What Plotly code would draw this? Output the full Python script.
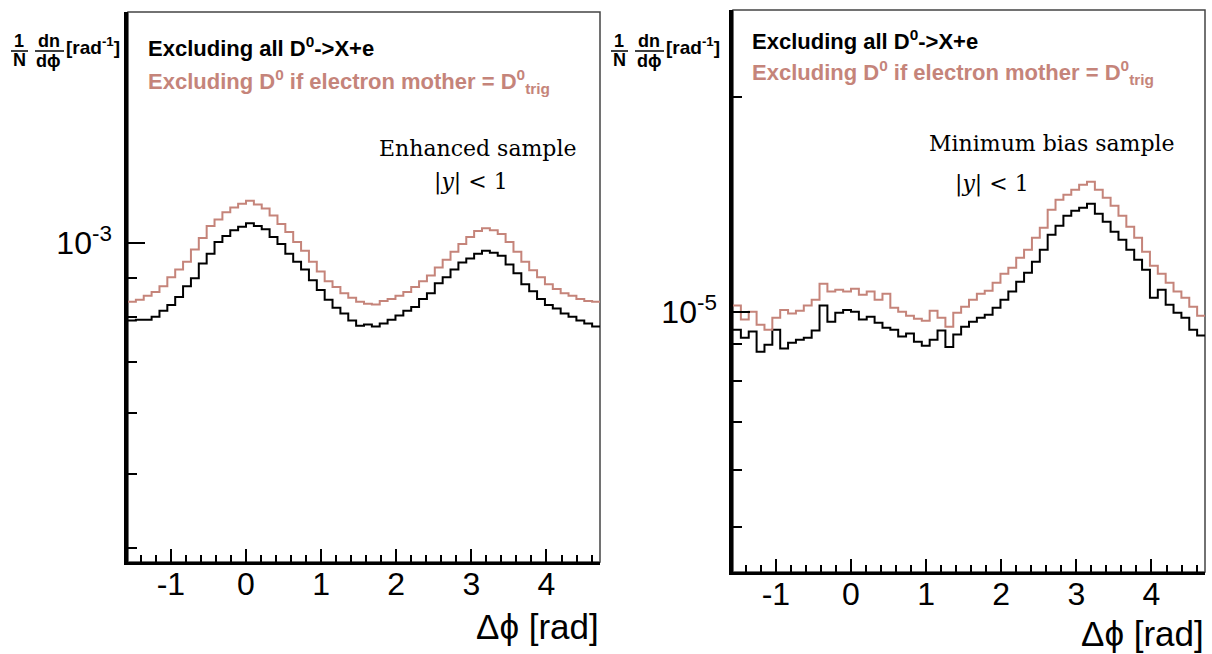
import numpy as np
import plotly.graph_objects as go

# ---------------------------------------------------------------------------
# Azimuthal correlation histograms, 60 bins over [-pi/2, 3pi/2]
# ---------------------------------------------------------------------------
N_BINS = 60
PHI_MIN, PHI_MAX = -np.pi / 2, 3 * np.pi / 2

# Enhanced sample, 1/N dn/dphi in units of 1e-4 rad^-1
enh_excl_all = [7.92, 7.94, 7.94, 8.01, 8.16, 8.30, 8.50, 8.78, 8.99, 9.40,
                9.68, 10.03, 10.21, 10.39, 10.50, 10.61, 10.52, 10.42, 10.18, 9.97,
                9.68, 9.45, 9.23, 8.94, 8.68, 8.43, 8.23, 8.09, 7.92, 7.80,
                7.83, 7.78, 7.85, 7.94, 8.04, 8.16, 8.25, 8.45, 8.60, 8.86,
                9.02, 9.23, 9.43, 9.54, 9.68, 9.77, 9.71, 9.62, 9.37, 9.13,
                8.83, 8.65, 8.45, 8.30, 8.21, 8.09, 8.01, 7.92, 7.85, 7.78]
enh_excl_trig = [8.38, 8.43, 8.53, 8.63, 8.78, 9.02, 9.23, 9.45, 9.80, 10.15,
                 10.52, 10.73, 10.96, 11.12, 11.25, 11.35, 11.22, 11.09, 10.86, 10.58,
                 10.33, 10.03, 9.77, 9.45, 9.18, 8.91, 8.76, 8.60, 8.48, 8.38,
                 8.33, 8.31, 8.40, 8.45, 8.53, 8.63, 8.76, 8.91, 9.07, 9.29,
                 9.51, 9.74, 9.97, 10.18, 10.36, 10.45, 10.39, 10.27, 10.03, 9.74,
                 9.45, 9.21, 9.02, 8.83, 8.71, 8.60, 8.53, 8.45, 8.40, 8.38]

# Minimum bias sample, 1/N dn/dphi in units of 1e-6 rad^-1
mb_excl_all = [9.44, 9.20, 9.38, 8.79, 8.99, 9.44, 8.88, 9.05, 9.14, 9.20,
               9.41, 10.20, 9.68, 9.97, 10.06, 10.00, 9.75, 9.84, 9.65, 9.50,
               9.44, 9.23, 9.32, 9.08, 8.96, 9.14, 9.41, 8.93, 9.29, 9.53,
               9.68, 9.81, 9.90, 10.13, 10.39, 10.67, 11.01, 11.34, 11.75, 12.21,
               12.81, 13.19, 13.62, 13.84, 13.98, 14.16, 13.71, 13.36, 12.94, 12.61,
               12.21, 11.82, 11.45, 10.46, 10.73, 10.23, 9.97, 9.81, 9.44, 9.26]
mb_excl_trig = [10.20, 9.75, 10.00, 9.59, 9.44, 9.81, 10.06, 9.94, 10.03, 10.20,
                10.39, 10.94, 10.67, 10.73, 10.67, 10.77, 10.56, 10.67, 10.39, 10.60,
                10.13, 10.00, 9.87, 9.78, 9.71, 10.03, 9.81, 9.53, 9.97, 10.16,
                10.39, 10.60, 10.70, 10.98, 11.30, 11.52, 11.90, 12.21, 12.69, 13.11,
                13.89, 14.34, 14.58, 14.81, 15.05, 15.20, 14.81, 14.44, 14.07, 13.62,
                13.15, 12.69, 12.13, 11.60, 11.30, 10.98, 10.67, 10.46, 10.16, 9.87]

x_tick_vals = [-1, 0, 1, 2, 3, 4]
x_tick_text = ["-1", "0", "1", "2", "3", "4"]
enh_major = [1e-3]
enh_major_text = ["10<sup>-3</sup>"]
enh_minor = [4e-4, 5e-4, 6e-4, 7e-4, 8e-4, 9e-4, 2e-3]
mb_major = [1e-5]
mb_major_text = ["10<sup>-5</sup>"]
mb_minor = [5e-6, 6e-6, 7e-6, 8e-6, 9e-6, 2e-5]

legend_all = "<b>Excluding all D<sup>0</sup>->X+e</b>"
legend_trig = "<b>Excluding D<sup>0</sup> if electron mother = D<sup>0</sup><sub>trig</sub></b>"
x_title = "\u0394\u03d5 [rad]"

BLACK = "#000000"
ROSE = "#c5847a"
SANS = "Liberation Sans"
SERIF = "DejaVu Serif"

W, H = 1212, 654


def fx(px):
    return px / W


def fy(py):
    return 1 - py / H


def step_xy(values, unit):
    edges = np.linspace(PHI_MIN, PHI_MAX, N_BINS + 1)
    vals = np.asarray(values, dtype=float) * unit
    return edges, np.append(vals, vals[-1])


fig = go.Figure()

panels = [
    dict(xa="x", ya="y", series=[(enh_excl_all, BLACK), (enh_excl_trig, ROSE)], unit=1e-4),
    dict(xa="x2", ya="y2", series=[(mb_excl_all, BLACK), (mb_excl_trig, ROSE)], unit=1e-6),
]
for p in panels:
    for vals, col in p["series"]:
        xs, ys = step_xy(vals, p["unit"])
        fig.add_trace(go.Scatter(x=xs, y=ys, mode="lines", xaxis=p["xa"], yaxis=p["ya"],
                                 line=dict(color=col, width=2, shape="hv"),
                                 showlegend=False, hoverinfo="skip"))

xaxis_common = dict(
    range=[PHI_MIN, PHI_MAX], tickmode="array", tickvals=x_tick_vals, ticktext=x_tick_text,
    ticks="inside", ticklen=13, tickwidth=1.5, tickcolor=BLACK,
    minor=dict(ticks="inside", dtick=0.2, tick0=0, ticklen=7, tickwidth=1.5, tickcolor=BLACK),
    showline=True, linecolor=BLACK, linewidth=2.5, showgrid=False, zeroline=False,
    tickfont=dict(family=SANS, size=32, color=BLACK), ticklabelstandoff=-8,
)
yaxis_common = dict(
    type="log", ticks="inside", ticklen=17, tickwidth=1.5, tickcolor=BLACK,
    showline=True, linecolor=BLACK, linewidth=3.5, showgrid=False, zeroline=False,
    tickfont=dict(family=SANS, size=32, color=BLACK), ticklabelstandoff=6,
    tickmode="array",
)

fig.update_layout(
    width=W, height=H, margin=dict(l=0, r=0, t=0, b=0),
    paper_bgcolor="white", plot_bgcolor="white",
    xaxis=dict(domain=[fx(128), fx(600)], anchor="y", **xaxis_common),
    yaxis=dict(domain=[fy(562), fy(12)], anchor="x", range=[-3.416, -2.699],
               tickvals=enh_major, ticktext=enh_major_text,
               minor=dict(ticks="inside", tickmode="array", tickvals=enh_minor, ticklen=9,
                          tickwidth=1.5, tickcolor=BLACK),
               **yaxis_common),
    xaxis2=dict(domain=[fx(733), fx(1205)], anchor="y2", **xaxis_common),
    yaxis2=dict(domain=[fy(572), fy(10)], anchor="x2", range=[-5.364, -4.578],
                tickvals=mb_major, ticktext=mb_major_text,
                minor=dict(ticks="inside", tickmode="array", tickvals=mb_minor, ticklen=9,
                           tickwidth=1.5, tickcolor=BLACK),
                **yaxis_common),
)

shapes = []
annotations = []

# thin frame around each pad
for xr, yr in [("x domain", "y domain"), ("x2 domain", "y2 domain")]:
    shapes.append(dict(type="rect", xref=xr, yref=yr, x0=0, x1=1, y0=0, y1=1,
                       line=dict(color="#444444", width=1.5), layer="below"))


def ann(px, py, text, size, color=BLACK, family=SANS, xanchor="left"):
    annotations.append(dict(x=fx(px), y=fy(py), xref="paper", yref="paper", text=text,
                            showarrow=False, xanchor=xanchor, yanchor="middle",
                            font=dict(family=family, size=size, color=color)))


for dx in (0, 600):
    # y-axis title drawn as stacked fractions
    ann(19 + dx, 41, "<b>1</b>", 18, xanchor="center")
    ann(19 + dx, 60, "<b>N</b>", 18, xanchor="center")
    ann(49 + dx, 41, "<b>dn</b>", 18, xanchor="center")
    ann(49 + dx, 61, "<b>d\u03d5</b>", 18, xanchor="center")
    ann(64 + dx, 46, "<b>[rad<sup>-1</sup>]</b>", 19)
    for x0, x1 in [(11, 28), (35, 64)]:
        shapes.append(dict(type="line", xref="paper", yref="paper",
                           x0=fx(x0 + dx), x1=fx(x1 + dx), y0=fy(51), y1=fy(51),
                           line=dict(color=BLACK, width=1.5)))

# legends
ann(146, 47, legend_all, 22)
ann(146, 81, legend_trig, 22, color=ROSE)
ann(750, 40, legend_all, 22)
ann(750, 72, legend_trig, 22, color=ROSE)

# sample labels
ann(478, 148, "Enhanced sample", 22, family=SERIF, xanchor="center")
ann(471, 182, "|<i>y</i>| < 1", 22, family=SERIF, xanchor="center")
ann(1052, 143, "Minimum bias sample", 22, family=SERIF, xanchor="center")
ann(992, 184, "|<i>y</i>| < 1", 22, family=SERIF, xanchor="center")

# x-axis titles
ann(601, 626, x_title, 35, xanchor="right")
ann(1206, 633, x_title, 35, xanchor="right")

fig.update_layout(shapes=shapes, annotations=annotations)

fig.write_html("out.html")
